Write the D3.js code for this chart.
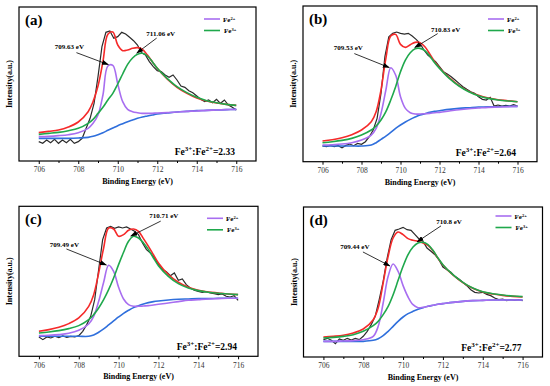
<!DOCTYPE html>
<meta charset="utf-8">
<title>Fe 2p XPS fits</title>
<style>
body { margin: 0; background: #fff; }
svg text { font-family: "Liberation Serif", "Times New Roman", serif; }
.frame { fill: none; stroke: #000; stroke-width: 1.2px; }
.raw { fill: none; stroke: #2b2b2b; stroke-width: 1.2px; }
.fit { fill: none; stroke-width: 1.6px; }
.axis text { font-size: 7.5px; fill: #333; }
.axis line { stroke: #000; }
.axis path { display: none; }
.title { font-size: 8px; font-weight: bold; fill: #000; }
.tag { font-size: 15px; font-weight: bold; }
.note { font-size: 7px; font-weight: bold; }
.ratio { font-size: 9.5px; font-weight: bold; }
.legend text { font-size: 7px; font-weight: bold; }
.arrow { stroke: #000; stroke-width: 0.8px; }
</style>
<body>
<div id="chart"></div>
</body>
<script src="https://cdn.jsdelivr.net/npm/d3@7"></script>
<script>

// energy grid of the fitted curves (eV)
const energy = [706, 706.5, 707, 707.5, 708, 708.5, 708.75, 709, 709.25, 709.5, 709.75, 710,
  710.25, 710.5, 710.75, 711, 711.25, 711.5, 711.75, 712, 712.5, 713, 713.5, 714, 714.5, 715, 715.5, 716];
// energy grid of the measured spectra (eV)
const rawEnergy = [706.0, 706.2, 706.4, 706.6, 706.8, 707.0, 707.2, 707.4, 707.6, 707.8,
  708.0, 708.2, 708.4, 708.6, 708.8, 709.0, 709.2, 709.4, 709.6, 709.8,
  710.0, 710.2, 710.4, 710.6, 710.8, 711.0, 711.2, 711.4, 711.6, 711.8,
  712.0, 712.2, 712.4, 712.6, 712.8, 713.0, 713.2, 713.4, 713.6, 713.8,
  714.0, 714.2, 714.4, 714.6, 714.8, 715.0, 715.2, 715.4, 715.6, 715.8, 716.0];
const majorTicks = [706, 708, 710, 712, 714, 716];
const minorTicks = [707, 709, 711, 713, 715];

// (a)
const rawA = [58, 53, 63, 55, 65, 53, 63, 55, 65, 53, 58, 68, 98, 128, 173, 253, 343, 386, 390, 368,
  373, 386, 381, 371, 361, 348, 325, 318, 298, 283, 271, 268, 258, 251, 258, 243, 225, 221, 211, 205,
  195, 185, 178, 183, 175, 185, 173, 183, 168, 161, 153];
const envA = [85, 89, 93, 102, 117, 148, 178, 225, 298, 380, 387, 348, 331, 333, 338, 340, 335, 318, 298, 278, 246, 221, 203, 189, 180, 174, 170, 167];
const bgA = [68, 68, 68, 68, 69, 71, 74, 79, 85, 92, 99, 106, 112, 118, 123, 128, 132, 135, 138, 141, 144, 147, 149, 151, 152, 153, 154, 155];
const fe2A = [73, 74, 76, 79, 85, 98, 113, 138, 198, 285, 287, 231, 178, 155, 148, 145, 143, 143, 143, 144, 145, 147, 149, 150, 152, 153, 154, 155];
const fe3A = [80, 83, 86, 91, 98, 113, 125, 143, 161, 183, 203, 231, 261, 290, 309, 320, 323, 315, 298, 278, 248, 223, 205, 191, 181, 175, 170, 167];

// (b)
const rawB = [47, 45, 49, 45, 48, 42, 49, 53, 48, 55, 52, 60, 75, 95, 130, 205, 315, 375, 385, 389,
  385, 383, 385, 377, 367, 355, 335, 320, 310, 300, 285, 270, 263, 255, 245, 235, 225, 217, 210, 205,
  195, 187, 185, 193, 167, 170, 167, 169, 167, 171, 167];
const envB = [62, 66, 72, 81, 95, 120, 150, 215, 310, 377, 382, 352, 343, 351, 358, 357, 345, 323, 300, 282, 252, 228, 211, 199, 191, 186, 183, 180];
const bgB = [47, 47, 47, 47, 47, 50, 57, 67, 77, 88, 100, 110, 119, 127, 134, 140, 144, 148, 151, 153, 157, 160, 162, 164, 165, 165, 166, 166];
const fe2B = [50, 51, 53, 57, 65, 80, 100, 145, 215, 282, 260, 195, 160, 147, 143, 143, 144, 145, 147, 148, 152, 156, 159, 161, 163, 164, 165, 166];
const fe3B = [57, 60, 64, 70, 80, 95, 107, 125, 150, 185, 225, 270, 305, 327, 339, 340, 333, 317, 297, 280, 250, 227, 210, 198, 190, 185, 182, 180];

// (c)
const rawC = [58, 50, 58, 55, 60, 56, 61, 57, 60, 58, 62, 75, 95, 120, 170, 260, 350, 385, 390, 384,
  388, 385, 388, 382, 375, 365, 340, 320, 310, 295, 275, 260, 254, 242, 250, 228, 232, 215, 205, 198,
  195, 192, 194, 190, 188, 185, 187, 180, 178, 182, 168];
const envC = [75, 80, 87, 98, 115, 150, 185, 250, 325, 385, 382, 360, 365, 378, 382, 375, 353, 330, 305, 280, 245, 222, 207, 198, 193, 190, 187, 185];
const bgC = [60, 60, 60, 60, 60, 60, 64, 72, 82, 94, 106, 118, 129, 138, 146, 152, 157, 161, 164, 166, 169, 171, 172, 173, 173, 174, 174, 174];
const fe2C = [62, 63, 65, 69, 78, 97, 120, 165, 222, 273, 255, 207, 172, 155, 150, 150, 151, 152, 154, 156, 160, 164, 168, 170, 172, 173, 174, 174];
const fe3C = [70, 73, 77, 83, 92, 110, 125, 145, 170, 200, 235, 275, 312, 345, 360, 355, 340, 320, 295, 272, 240, 218, 205, 197, 192, 189, 187, 185];

// (d)
const rawD = [52, 56, 50, 40, 54, 50, 56, 51, 56, 52, 62, 77, 97, 122, 172, 227, 297, 352, 380, 384,
  389, 382, 380, 367, 354, 347, 327, 317, 307, 292, 270, 262, 254, 242, 234, 224, 214, 202, 194, 192,
  194, 188, 184, 177, 172, 174, 169, 172, 170, 172, 169];
const envD = [60, 62, 65, 72, 84, 112, 147, 222, 302, 357, 375, 367, 355, 350, 347, 342, 335, 319, 296, 276, 246, 223, 206, 195, 189, 185, 182, 180];
const bgD = [47, 47, 47, 47, 47, 50, 55, 64, 77, 92, 107, 120, 130, 137, 143, 148, 152, 155, 158, 160, 164, 167, 169, 170, 171, 171, 171, 171];
const fe2D = [47, 47, 48, 49, 52, 62, 92, 162, 242, 279, 257, 214, 180, 157, 148, 149, 152, 155, 158, 160, 164, 167, 169, 170, 171, 171, 171, 171];
const fe3D = [57, 59, 62, 67, 77, 94, 107, 127, 152, 187, 230, 272, 307, 330, 342, 344, 337, 320, 297, 277, 247, 224, 207, 196, 190, 186, 183, 181];

const tags = ["(a)", "(b)", "(c)", "(d)"];
const fe2Peaks = [709.63, 709.53, 709.49, 709.44];
const fe3Peaks = [711.06, 710.83, 710.71, 710.8];
const fe2Labels = ["709.63 eV", "709.53 eV", "709.49 eV", "709.44 eV"];
const fe3Labels = ["711.06 eV", "710.83 eV", "710.71 eV", "710.8 eV"];
const ratios = ["2.33", "2.64", "2.94", "2.77"];

const colors = { env: "#f52a2a", bg: "#2f6fdc", fe2: "#a86ef0", fe3: "#1fa84c" };

// panel boxes in page pixels, and some per-panel offsets
const layout = [
  { left: 19, top: 7, right: 256, bottom: 161, leg: [185, 12], a1: [-32, -12], l1: [-7, -4], a2: [20, -15], l2: [4, -2], note: 7 },
  { left: 303, top: 6, right: 537, bottom: 161.7, leg: [185, 13], a1: [-35, -14], l1: [-6, -4], a2: [23, -14], l2: [8, -2], note: 7 },
  { left: 19, top: 206.3, right: 258, bottom: 356.3, leg: [188, 12], a1: [-40, -16], l1: [-2, -2], a2: [30, -15], l2: [3, -3], note: 7 },
  { left: 303.5, top: 207, right: 542.5, bottom: 357, leg: [192, 9], a1: [-27, -14], l1: [-8, -3], a2: [24, -16], l2: [8, -2], note: 6 }
];

const panels = [
  { raw: rawA, env: envA, bg: bgA, fe2: fe2A, fe3: fe3A },
  { raw: rawB, env: envB, bg: bgB, fe2: fe2B, fe3: fe3B },
  { raw: rawC, env: envC, bg: bgC, fe2: fe2C, fe3: fe3C },
  { raw: rawD, env: envD, bg: bgD, fe2: fe2D, fe3: fe3D }
];

const svg = d3.select("#chart").append("svg")
    .attr("width", 550)
    .attr("height", 386);

svg.append("defs").append("marker")
    .attr("id", "head")
    .attr("markerUnits", "userSpaceOnUse")
    .attr("markerWidth", 7).attr("markerHeight", 5)
    .attr("refX", 6.5).attr("refY", 2.5)
    .attr("orient", "auto")
  .append("path")
    .attr("d", "M0,0L7,2.5L0,5z")
    .attr("fill", "#000");

// superscripted text helper: parts = [[text, isSup], ...]
function supText(sel, parts, supSize) {
  parts.forEach(function(p) {
    const t = sel.append("tspan").text(p[0]);
    if (p[1]) t.attr("baseline-shift", "super").attr("font-size", supSize);
    else t.attr("baseline-shift", "0");
  });
}

panels.forEach(function(p, i) {
  const L = layout[i];
  const x = d3.scaleLinear().domain([705, 717]).range([L.left, L.right]);
  const y = d3.scaleLinear().domain([0, 3 * (L.bottom - L.top)]).range([L.bottom, L.top]);
  const g = svg.append("g");

  const fitLine = d3.line()
      .x(function(d, k) { return x(energy[k]); })
      .y(function(d) { return y(d); })
      .curve(d3.curveCatmullRom);
  const rawLine = d3.line()
      .x(function(d, k) { return x(rawEnergy[k]); })
      .y(function(d) { return y(d); });

  //draw spectra
  g.append("path").attr("class", "raw").attr("d", rawLine(p.raw));
  ["env", "bg", "fe2", "fe3"].forEach(function(key) {
    g.append("path").attr("class", "fit")
        .attr("stroke", colors[key])
        .attr("d", fitLine(p[key]));
  });

  //frame
  g.append("rect").attr("class", "frame")
      .attr("x", L.left).attr("y", L.top)
      .attr("width", L.right - L.left).attr("height", L.bottom - L.top);

  //x axis: major and minor ticks
  g.append("g").attr("class", "axis")
      .attr("transform", "translate(0," + L.bottom + ")")
      .call(d3.axisBottom(x).tickValues(majorTicks).tickSize(3).tickPadding(3).tickFormat(d3.format("d")));
  g.append("g").attr("class", "axis")
      .attr("transform", "translate(0," + L.bottom + ")")
      .call(d3.axisBottom(x).tickValues(minorTicks).tickSize(2).tickFormat(""));

  //axis titles
  g.append("text").attr("class", "title")
      .attr("x", (L.left + L.right) / 2).attr("y", L.bottom + 23)
      .attr("text-anchor", "middle")
      .text("Binding Energy (eV)");
  g.append("text").attr("class", "title")
      .attr("transform", "translate(" + (L.left - 7) + "," + (L.top + L.bottom) / 2 + ")rotate(-90)")
      .attr("text-anchor", "middle")
      .text("Intensity(a.u.)");

  //panel tag
  g.append("text").attr("class", "tag")
      .attr("x", L.left + 6).attr("y", L.top + 17.5)
      .text(tags[i]);

  //legend
  const leg = g.append("g").attr("class", "legend")
      .attr("transform", "translate(" + (L.left + L.leg[0]) + "," + (L.top + L.leg[1]) + ")");
  [["fe2", "2+"], ["fe3", "3+"]].forEach(function(e, k) {
    leg.append("line")
        .attr("x1", 0).attr("x2", 16).attr("y1", k * 11.5).attr("y2", k * 11.5)
        .attr("stroke", colors[e[0]]).attr("stroke-width", 1.6);
    const t = leg.append("text").attr("x", 19 + k).attr("y", k * 11.5 + 2.5);
    supText(t, [["Fe", false], [e[1], true]], "4.5px");
  });

  //peak arrows and labels
  [[fe2Peaks[i], p.fe2, L.a1, L.l1, fe2Labels[i]],
   [fe3Peaks[i], p.fe3, L.a2, L.l2, fe3Labels[i]]].forEach(function(a) {
    const v = d3.scaleLinear().domain(energy).range(a[1])(a[0]);
    const tx = x(a[0]) - 2, ty = y(v) - 1;
    const sx = tx + a[2][0], sy = ty + a[2][1];
    g.append("line").attr("class", "arrow")
        .attr("x1", sx).attr("y1", sy).attr("x2", tx).attr("y2", ty)
        .attr("marker-end", "url(#head)");
    g.append("text").attr("class", "note")
        .attr("font-size", L.note)
        .attr("x", sx + a[3][0]).attr("y", sy + a[3][1])
        .attr("text-anchor", "middle")
        .text(a[4]);
  });

  //ratio
  const r = g.append("text").attr("class", "ratio")
      .attr("x", L.right - 21).attr("y", L.bottom - 6)
      .attr("text-anchor", "end");
  supText(r, [["Fe", false], ["3+", true], [":Fe", false], ["2+", true], ["=" + ratios[i], false]], "7px");
});

</script>
</html>
